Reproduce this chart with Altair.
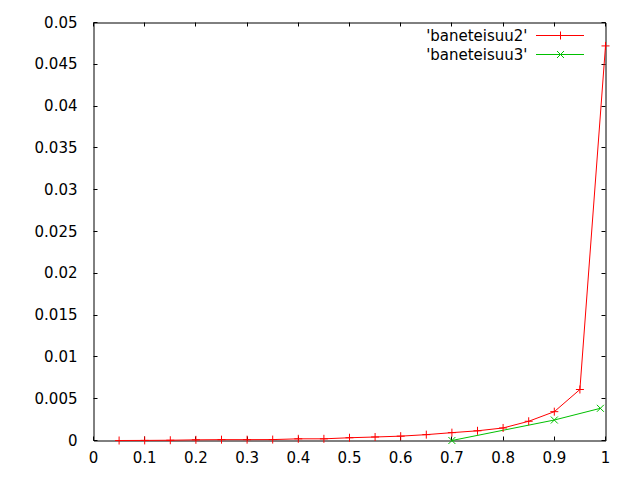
import altair as alt
import pandas as pd

# data
x_red = [0.05, 0.1, 0.15, 0.2, 0.25, 0.3, 0.35, 0.4, 0.45, 0.5,
         0.55, 0.6, 0.65, 0.7, 0.75, 0.8, 0.85, 0.9, 0.95, 1.0]
y_red = [0.0, 0.00001, 0.00003, 0.00008, 0.0001, 0.0001, 0.00011, 0.0002, 0.0002, 0.00033,
         0.00042, 0.00052, 0.0007, 0.00094, 0.00116, 0.0015, 0.0023, 0.00345, 0.0061, 0.0472]
x_green = [0.7, 0.9, 0.99]
y_green = [0.0, 0.00245, 0.00385]

series_names = ["'baneteisuu2'", "'baneteisuu3'"]
series_colors = ["#ff0000", "#00c000"]

x_ticks = [0, 0.1, 0.2, 0.3, 0.4, 0.5, 0.6, 0.7, 0.8, 0.9, 1]
y_ticks = [0, 0.005, 0.01, 0.015, 0.02, 0.025, 0.03, 0.035, 0.04, 0.045, 0.05]

PLUS = "M-1,0H1M0,-1V1"
CROSS = "M-1,-1L1,1M-1,1L1,-1"
FONT = "DejaVu Sans"

red_df = pd.DataFrame({"x": x_red, "y": y_red})
green_df = pd.DataFrame({"x": x_green, "y": y_green})

xscale = alt.Scale(domain=[0, 1], nice=False, zero=False)
yscale = alt.Scale(domain=[0, 0.05], nice=False, zero=False)

common_axis = dict(offset=-4, tickSize=4, domain=False, grid=False, translate=0,
                   tickColor="black", labelColor="black", labelFont=FONT,
                   labelFontSize=15, title=None, format="~g", labelFlush=False,
                   labelOverlap=False)

x_bottom = alt.Axis(orient="bottom", values=x_ticks, labelPadding=10, **common_axis)
y_left = alt.Axis(orient="left", values=y_ticks, labelPadding=16, **common_axis)
x_top = alt.Axis(orient="top", values=x_ticks, labels=False, **common_axis)
y_right = alt.Axis(orient="right", values=y_ticks, labels=False, **common_axis)

red_line = alt.Chart(red_df).mark_line(strokeWidth=1).encode(
    x=alt.X("x:Q", scale=xscale, axis=x_bottom),
    y=alt.Y("y:Q", scale=yscale, axis=y_left),
    color=alt.value(series_colors[0]),
)
green_line = alt.Chart(green_df).mark_line(strokeWidth=1).encode(
    x=alt.X("x:Q", scale=xscale, axis=x_top),
    y=alt.Y("y:Q", scale=yscale, axis=y_right),
    color=alt.value(series_colors[1]),
)
red_pts = alt.Chart(red_df).mark_point(shape=PLUS, size=64, filled=False,
                                        strokeWidth=1, opacity=1).encode(
    x=alt.X("x:Q", scale=xscale, axis=None),
    y=alt.Y("y:Q", scale=yscale, axis=None),
    color=alt.value(series_colors[0]),
)
green_pts = alt.Chart(green_df).mark_point(shape=CROSS, size=49, filled=False,
                                            strokeWidth=1, opacity=1).encode(
    x=alt.X("x:Q", scale=xscale, axis=None),
    y=alt.Y("y:Q", scale=yscale, axis=None),
    color=alt.value(series_colors[1]),
)

# manual gnuplot-style key (top right, inside)
legend_layers = []
row_y = [13, 32]
shapes = [(PLUS, 64), (CROSS, 49)]
for i, name in enumerate(series_names):
    d = pd.DataFrame({"t": [name]})
    legend_layers.append(
        alt.Chart(d).mark_text(align="right", baseline="middle", font=FONT,
                               fontSize=15, color="black").encode(
            text="t:N", x=alt.value(434), y=alt.value(row_y[i]))
    )
    legend_layers.append(
        alt.Chart(d).mark_rule(strokeWidth=1, strokeCap="butt", opacity=1).encode(
            x=alt.value(442.5), x2=alt.value(490.5), y=alt.value(row_y[i]),
            color=alt.value(series_colors[i]))
    )
    legend_layers.append(
        alt.Chart(d).mark_point(shape=shapes[i][0], size=shapes[i][1], filled=False,
                                strokeWidth=1, opacity=1).encode(
            x=alt.value(467), y=alt.value(row_y[i]),
            color=alt.value(series_colors[i]))
    )

chart = alt.layer(red_line, green_line, red_pts, green_pts, *legend_layers).resolve_axis(
    x="independent", y="independent"
).properties(
    width=512, height=418,
    padding={"left": 85.5, "top": 14.5, "right": 20, "bottom": 30},
    autosize=alt.AutoSizeParams(type="none"),
    background="white",
).configure_view(stroke="black", strokeWidth=1)

chart.save("out.html", embed_options={"renderer": "svg", "actions": False})
